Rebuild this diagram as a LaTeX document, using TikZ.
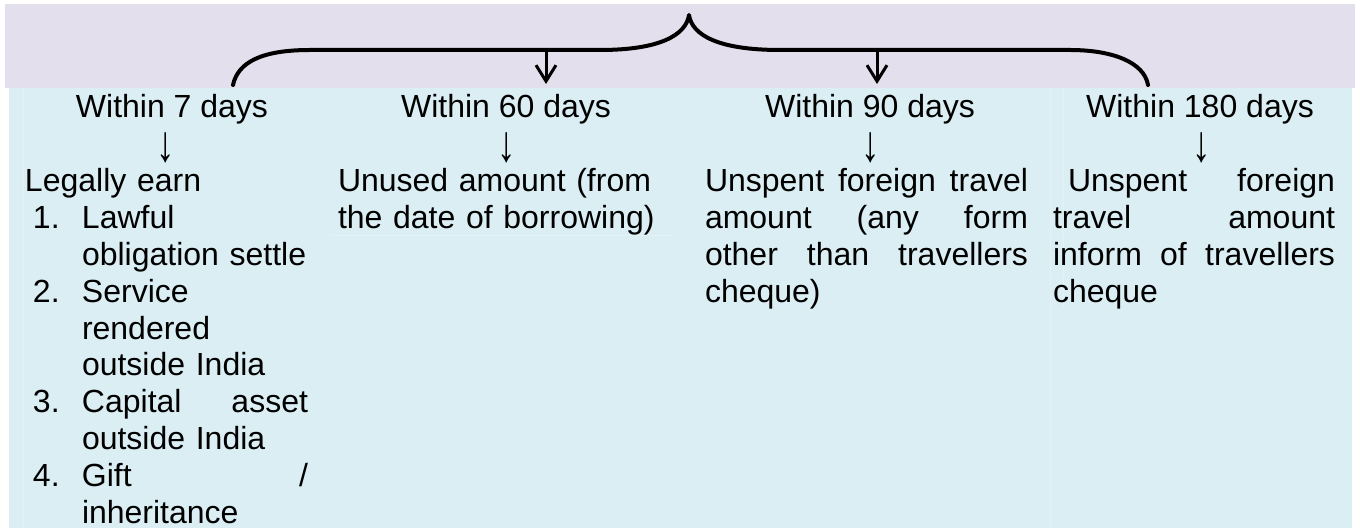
\documentclass[tikz,border=0pt]{standalone}
\usepackage{fontspec}
\usepackage{graphicx}
\setmainfont{Liberation Sans}
\usetikzlibrary{arrows.meta}

\definecolor{bandtop}{HTML}{E4DFEC}
\definecolor{bandbody}{HTML}{DAEEF3}
\definecolor{cellline}{HTML}{E4F2F6}

% one line of a column, filled to the column width
\newcommand\fillrow[1]{\hbox to\linewidth{#1}}
% one line of a numbered list with a hanging indent
\newcommand\itemrow[2]{\hbox to\linewidth{\hbox to 28.5pt{\hspace{4pt}#1\hfil}#2}}
% the tall thin down arrow under each heading (no depth below its baseline)
\newcommand\downmark{\raisebox{0pt}[\height][0pt]{\scalebox{1.15}[1.6]{↓}}}

\tikzset{
  txt/.style={inner sep=0pt, outer sep=0pt, font=\fontsize{16pt}{18.4pt}\selectfont},
  hdr/.style={txt, anchor=base},
  body/.style={txt, anchor=base west, align=left},
  brace/.style={line width=2pt, line cap=round, line join=round},
  pick/.style={line width=1.5pt, -{Straight Barb[length=8pt,width=10pt]}},
}

\begin{document}
\begin{tikzpicture}[x=0.5pt, y=-0.5pt]
\useasboundingbox (0,0) rectangle (1360,528);

% background bands
\fill[bandtop] (5,4) rectangle (1355,88);
\fill[bandbody] (9,88) rectangle (1352,528);
\draw[cellline, line width=0.5pt] (23,88) -- (23,528);
\draw[cellline, line width=0.5pt] (1050,88) -- (1050,528);
\draw[cellline, line width=0.5pt] (1063,88) -- (1063,308);
\draw[cellline, line width=0.5pt] (330,236) -- (675,236);

% brace over the four periods
\coordinate (footL) at (233,85);
\coordinate (footR) at (1148,85);
\coordinate (tip) at (689,15);
\coordinate (from60) at (546,50);
\coordinate (to60) at (546,84);
\coordinate (from90) at (877,50);
\coordinate (to90) at (877,84);
\draw[brace] (footL) .. controls (238,62) and (262,50) .. (310,50)
  -- (600,50) .. controls (660,50) and (686,35) .. (tip)
  .. controls (692,35) and (718,50) .. (780,50)
  -- (1070,50) .. controls (1112,50) and (1144,62) .. (footR);
\draw[pick] (from60) -- (to60);
\draw[pick] (from90) -- (to90);

% period headings
\node[hdr] (h7)   at (172,118)  {Within 7 days};
\node[hdr] (h60)  at (506,118)  {Within 60 days};
\node[hdr] (h90)  at (870,118)  {Within 90 days};
\node[hdr] (h180) at (1200,118) {Within 180 days};
\node[hdr] (d7)   at (166,162)  {\downmark};
\node[hdr] (d60)  at (507,162)  {\downmark};
\node[hdr] (d90)  at (871,162)  {\downmark};
\node[hdr] (d180) at (1202,162) {\downmark};

% column texts
\node[body, text width=141.5pt] (c7) at (25,192) {%
\fillrow{Legally earn\hfil}
\itemrow{1.}{Lawful\hfil}
\itemrow{}{obligation settle\hfil}
\itemrow{2.}{Service\hfil}
\itemrow{}{rendered\hfil}
\itemrow{}{outside India\hfil}
\itemrow{3.}{Capital\hfill asset}
\itemrow{}{outside India\hfil}
\itemrow{4.}{Gift\hfill /}
\itemrow{}{inheritance\hfil}};

\node[body, text width=155.5pt] (c60) at (338,192) {%
\fillrow{Unused amount (from\hfil}
\fillrow{the date of borrowing)\hfil}};

\node[body, text width=161.5pt] (c90) at (705,192) {%
\fillrow{Unspent\hfill foreign\hfill travel}
\fillrow{amount\hfill (any\hfill form}
\fillrow{other\hfill than\hfill travellers}
\fillrow{cheque)\hfil}};

\node[body, text width=141pt] (c180) at (1053,192) {%
\fillrow{\hspace{7.5pt}Unspent\hfill foreign}
\fillrow{travel\hfill amount}
\fillrow{inform\hfill of\hfill travellers}
\fillrow{cheque\hfil}};
\end{tikzpicture}
\end{document}
